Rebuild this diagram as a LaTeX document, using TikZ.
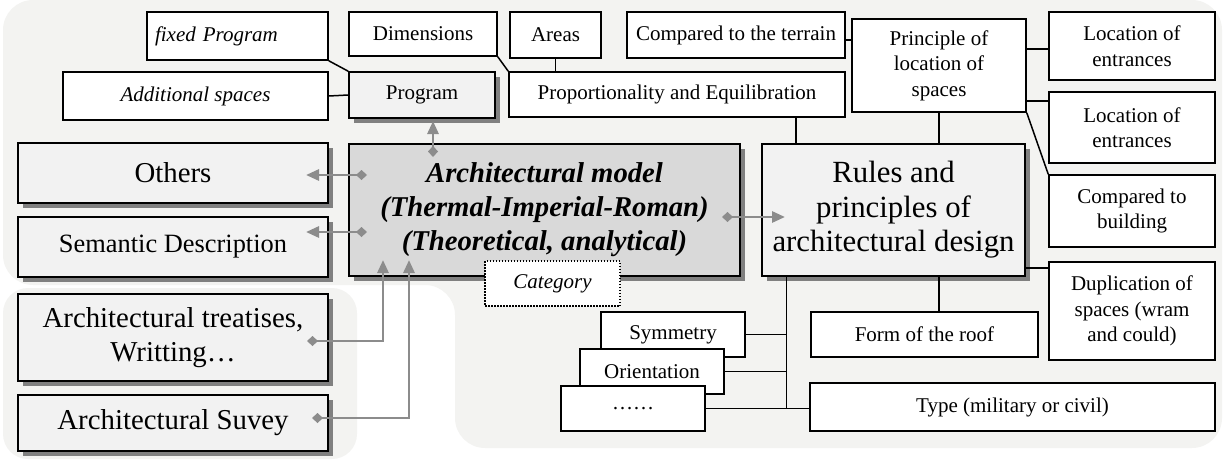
\documentclass[tikz,border=0pt]{standalone}
\usepackage{fontspec}
\setmainfont{Liberation Serif}
\usetikzlibrary{arrows.meta,shadows}

\definecolor{bggray}{HTML}{F3F3F1}
\definecolor{boxgray}{HTML}{F2F2F2}
\definecolor{modelgray}{HTML}{D9D9D9}
\definecolor{shadegray}{HTML}{808080}
\definecolor{linkgray}{HTML}{8C8C8C}

\newcommand{\boxfont}{\fontsize{21}{25.5}\selectfont}
\newcommand{\midfont}{\fontsize{26.4}{31}\selectfont}
\newcommand{\bigfont}{\fontsize{28.8}{34}\selectfont}
\newcommand{\rulefont}{\fontsize{30.8}{34.5}\selectfont}
\newcommand{\modelfont}{\fontsize{28.7}{34}\selectfont\bfseries\itshape}

\tikzset{
  box/.style={draw=black, line width=1.5pt, fill=white, inner sep=3pt, align=center, font=\boxfont},
  shadebox/.style={box, fill=boxgray, general shadow={fill=shadegray, shadow xshift=5pt, shadow yshift=-5pt}},
  tie/.style={line width=1.5pt},
  link/.style={draw=linkgray, line width=2.8pt, {Diamond[length=11pt,width=10pt]}-{Triangle[length=13pt,width=11pt]}}
}

\begin{document}
\begin{tikzpicture}[x=1pt,y=-1pt]
		\useasboundingbox (0,0) rectangle (1225,461);
		% background areas
		\fill[bggray, rounded corners=30pt] (3,285) -- (3,0) -- (1222,0) -- (1222,448) -- (455,448) -- (455,285) -- cycle;
		\fill[bggray, rounded corners=25pt] (3,288) rectangle (357,459);

		% program branch
		\node[box, minimum width=181pt, minimum height=48pt, text width=165pt, align=left, font=\boxfont\itshape] (fixedprog) at (237.5,36) {fixed Program};
		\node[box, minimum width=265pt, minimum height=48pt, font=\boxfont\itshape] (addspaces) at (195.5,96) {Additional spaces};
		\node[shadebox, minimum width=146pt, minimum height=46pt] (program) at (422,95) {Program};

		% proportions branch
		\node[box, minimum width=148pt, minimum height=44pt] (dimensions) at (423,34) {Dimensions};
		\node[box, minimum width=91pt, minimum height=46pt] (areas) at (555.5,35) {Areas};
		\node[box, minimum width=218pt, minimum height=46pt] (terrain) at (736,35) {Compared to the terrain};
		\node[box, minimum width=336pt, minimum height=45pt] (proport) at (677,94.5) {Proportionality and Equilibration};

		% location branch
		\node[box, minimum width=174pt, minimum height=93pt] (principle) at (939,65.5) {Principle of\\location of\\spaces};
		\node[box, minimum width=166pt, minimum height=68pt] (entrA) at (1132,46) {Location of\\entrances};
		\node[box, minimum width=166pt, minimum height=71pt] (entrB) at (1132,127.5) {Location of\\entrances};
		\node[box, minimum width=166pt, minimum height=72pt] (building) at (1132,211) {Compared to\\building};
		\node[box, minimum width=166pt, minimum height=98pt] (duplic) at (1132,311) {Duplication of\\spaces (wram\\and could)};

		% main boxes
		\node[shadebox, minimum width=263pt, minimum height=132pt, font=\rulefont] (rules) at (893.5,210) {Rules and\\principles of\\architectural design};
		\node[shadebox, fill=modelgray, minimum width=391pt, minimum height=132pt, font=\modelfont] (model) at (544.5,210) {Architectural model\\(Thermal-Imperial-Roman)\\(Theoretical, analytical)};
		\node[box, dash pattern=on 1.5pt off 1.5pt, minimum width=135pt, minimum height=45pt, font=\boxfont\itshape] (category) at (552.5,283.5) {Category};

		% left column
		\node[shadebox, minimum width=310pt, minimum height=60pt, font=\bigfont] (others) at (173,173) {Others};
		\node[shadebox, minimum width=310pt, minimum height=60pt, font=\midfont] (semantic) at (173,247) {Semantic Description};
		\node[shadebox, minimum width=310pt, minimum height=87pt, font=\bigfont] (treatise) at (173,337.5) {Architectural treatises,\\Writting…};
		\node[shadebox, minimum width=310pt, minimum height=56pt, font=\bigfont] (survey) at (173,423) {Architectural Suvey};

		% lower branch
		\node[box, minimum width=227pt, minimum height=45pt] (roof) at (924.5,334.5) {Form of the roof};
		\node[box, minimum width=405pt, minimum height=48pt] (type) at (1012.5,407) {Type (military or civil)};
		\node[box, minimum width=144pt, minimum height=45pt] (symmetry) at (673,334.5) {Symmetry};
		\node[box, minimum width=144pt, minimum height=45pt] (orient) at (652,371.5) {Orientation};
		\node[box, minimum width=144pt, minimum height=45pt] (etc) at (633,408.5) {……};

		% black ties
		\draw[tie] (fixedprog.south east) -- (program.north west);
		\draw[tie] (addspaces.east) -- (program.west);
		\draw[tie] (dimensions.south east) -- (proport.north west);
		\draw[tie] (areas.south) -- (areas.south |- proport.north);
		\coordinate (tT) at ([yshift=-5pt]terrain.east);
		\draw[tie] (tT) -- (tT -| principle.west);
		\coordinate (pA) at ([yshift=-3pt]principle.east |- entrA.west);
		\draw[tie] (pA) -- (pA -| entrA.west);
		\coordinate (pB) at ([yshift=12pt]principle.south east);
		\draw[tie] (pB) -- (pB -| entrB.west);
		\draw[tie] (principle.south east) -- (building.north west);
		\draw[tie] (principle.south) -- (principle.south |- rules.north);
		\coordinate (pP) at ([xshift=-50pt]proport.south east);
		\draw[tie] (pP) -- (pP |- rules.north);
		\coordinate (rD) at ([yshift=9pt]rules.south east);
		\draw[tie] (rD) -- (rD -| duplic.west);
		\draw[tie] (principle.south |- rules.south) -- (principle.south |- roof.north);
		\coordinate (rB) at ([xshift=25pt]rules.south west);
		\draw[tie] (rB) -- (rB |- etc.east);
		\draw[tie] (symmetry.east) -- (symmetry.east -| rB);
		\draw[tie] (orient.east) -- (orient.east -| rB);
		\draw[tie] (etc.east) -- (etc.east -| type.west);

		% gray links
		\coordinate (gPa) at (433,157);
		\coordinate (gPb) at (433,121);
		\coordinate (gOa) at (367,175);
		\coordinate (gOb) at (306,175);
		\coordinate (gSa) at (367,232);
		\coordinate (gSb) at (306,232);
		\coordinate (gRa) at (722,217);
		\coordinate (gRb) at (785,217);
		\coordinate (gTa) at (307,341);
		\coordinate (gTb) at (383,260);
		\coordinate (gVa) at (312,418);
		\coordinate (gVb) at (409,260);
		\draw[link] (gPa) -- (gPb);
		\draw[link] (gOa) -- (gOb);
		\draw[link] (gSa) -- (gSb);
		\draw[link] (gRa) -- (gRb);
		\draw[link] (gTa) -| (gTb);
		\draw[link] (gVa) -| (gVb);
\end{tikzpicture}
\end{document}
